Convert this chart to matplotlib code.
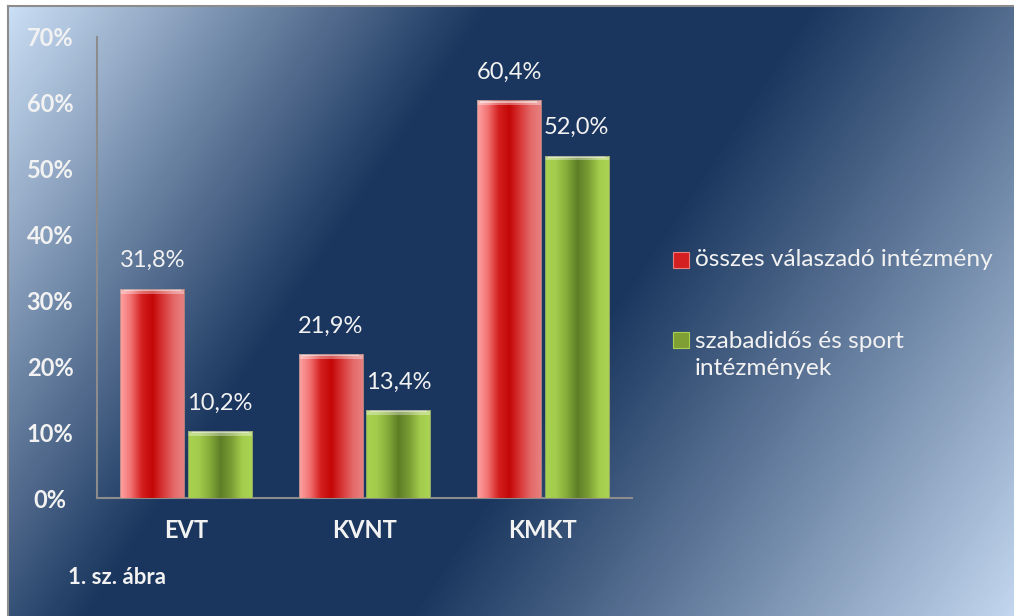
import numpy as np
import matplotlib.pyplot as plt
from matplotlib.colors import LinearSegmentedColormap
from matplotlib.patches import Rectangle
from matplotlib.lines import Line2D

categories = ['EVT', 'KVNT', 'KMKT']
osszes = [31.8, 21.9, 60.4]
szabadido = [10.2, 13.4, 52.0]
osszes_labels = ['31,8%', '21,9%', '60,4%']
szabadido_labels = ['10,2%', '13,4%', '52,0%']
yticks = [0, 10, 20, 30, 40, 50, 60, 70]
ytick_labels = ['0%', '10%', '20%', '30%', '40%', '50%', '60%', '70%']
legend_labels = ['összes válaszadó intézmény', 'szabadidős és sport\nintézmények']
caption = '1. sz. ábra'

plt.rcParams['font.family'] = ['Lato', 'DejaVu Sans']
txt = '#f2f2f2'
W, H = 1014, 616
fig = plt.figure(figsize=(W / 100, H / 100), dpi=100)

# diagonal background gradient (light - navy - light)
bg = fig.add_axes([9 / W, 0, 1 - 9 / W, 1 - 7 / H])
yy, xx = np.mgrid[7:H, 9:W]
t = 0.835 * xx + 0.551 * yy
t = (t - t.min()) / (t.max() - t.min())
bg_cmap = LinearSegmentedColormap.from_list(
    'bg', [(0, '#cadef4'), (0.34, '#1a365e'), (0.57, '#1a365e'), (1, '#c2d6ee')])
bg.imshow(t, cmap=bg_cmap, aspect='auto', interpolation='bilinear')
bg.axis('off')

# frame
fig.add_artist(Line2D([8 / W, 8 / W], [0, 1 - 6 / H], color='#8c8c8c', lw=1.5))
fig.add_artist(Line2D([8 / W, 1], [1 - 6 / H, 1 - 6 / H], color='#8c8c8c', lw=1.5))

ax = fig.add_axes([97 / W, 1 - 498 / H, (632 - 97) / W, (498 - 37) / H])
ax.patch.set_visible(False)

x = np.arange(len(categories))
w = 0.36
off = 0.19
bars1 = ax.bar(x - off, osszes, w, color='#d42a2a', zorder=2)
bars2 = ax.bar(x + off, szabadido, w, color='#8cb040', zorder=2)

red_cmap = LinearSegmentedColormap.from_list(
    'r', ['#ffa4a4', '#f27272', '#d42020', '#c40606', '#d83838', '#e46a6a', '#e88282'])
green_cmap = LinearSegmentedColormap.from_list(
    'g', ['#a8d24e', '#a2cc4c', '#86ac3a', '#5e7e26', '#7a9c34', '#a4cc4c', '#acd454'])
grad = np.linspace(0, 1, 256).reshape(1, -1)


def shade(bars, cmap, labels):
    for b, lbl in zip(bars, labels):
        x0, h, bw = b.get_x(), b.get_height(), b.get_width()
        im = ax.imshow(grad, cmap=cmap, extent=[x0, x0 + bw, 0, h],
                       aspect='auto', zorder=3, interpolation='bilinear')
        im.set_clip_path(b)
        # bevel on top
        ax.add_patch(Rectangle((x0, h - 0.75), bw, 0.75, facecolor='white',
                               alpha=0.35, lw=0, zorder=4))
        ax.add_patch(Rectangle((x0 + 0.02, h - 0.35), bw - 0.04, 0.3, facecolor='white',
                               alpha=0.5, lw=0, zorder=4))
        ax.add_patch(Rectangle((x0, 0), bw, h, facecolor='none',
                               edgecolor='#7a7a7a', alpha=0.5, lw=0.8, zorder=4))
        ax.annotate(lbl, (x0 + bw / 2, h), xytext=(0, 20), textcoords='offset points',
                    ha='center', va='center', color=txt, fontsize=17)


shade(bars1, red_cmap, osszes_labels)
shade(bars2, green_cmap, szabadido_labels)

ax.set_xlim(-0.5, 2.5)
ax.set_ylim(0, 70)
for s in ['top', 'right']:
    ax.spines[s].set_visible(False)
for s in ['left', 'bottom']:
    ax.spines[s].set_color('#8c8c8c')
    ax.spines[s].set_linewidth(1.5)
ax.set_yticks(yticks)
ax.set_yticklabels(ytick_labels, ha='center', fontweight='bold', color=txt, fontsize=17)
ax.set_xticks(x)
ax.set_xticklabels(categories, fontweight='bold', color=txt, fontsize=17)
ax.tick_params(axis='y', length=0, pad=33.8)
ax.tick_params(axis='x', length=0, pad=15)

# legend
fig.add_artist(Rectangle((673 / W, 1 - 268 / H), 16 / W, 16 / H, facecolor='#d42020',
                         edgecolor='#e88080', lw=0.8, transform=fig.transFigure))
fig.add_artist(Rectangle((673 / W, 1 - 348 / H), 16 / W, 16 / H, facecolor='#7f9f34',
                         edgecolor='#a8d050', lw=0.8, transform=fig.transFigure))
fig.text(695 / W, 1 - 260 / H, legend_labels[0], color=txt, fontsize=17.6, va='center')
fig.text(695 / W, 1 - 355 / H, legend_labels[1], color=txt, fontsize=17.6, va='center',
         linespacing=1.32)

fig.text(68 / W, 1 - 578 / H, caption, color=txt, fontsize=16, fontweight='bold', va='center')

plt.savefig('out.png', dpi=100)
